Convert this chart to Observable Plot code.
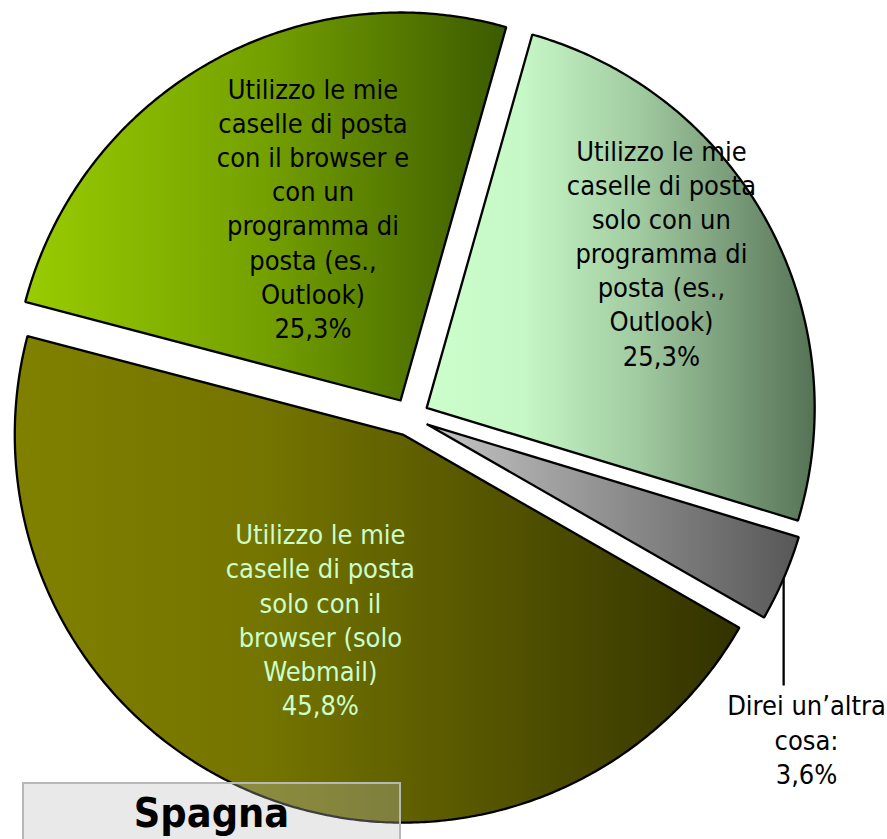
<!DOCTYPE html>
<html>
<head>
<meta charset="utf-8">
<script src="https://cdn.jsdelivr.net/npm/d3@7"></script>
<script src="https://cdn.jsdelivr.net/npm/@observablehq/plot@0.6"></script>
<style>
  html, body { margin: 0; padding: 0; background: #fff; overflow: hidden; }
  #wrap { position: relative; width: 887px; height: 839px; overflow: hidden; }
  #title {
    position: absolute; left: 22px; top: 782px; width: 375px; height: 80px;
    background: rgba(188,188,188,0.33); border: 2px solid #b8b8b8;
    font-family: "DejaVu Sans Condensed", "DejaVu Sans", sans-serif;
    font-weight: bold; font-size: 41px; text-align: center; line-height: 58px; color: #000;
  }
</style>
</head>
<body>
<div id="wrap"><div id="chart"></div><div id="title"></div></div>
<script>
// ---- data ----
const categories = [
  "Utilizzo le mie caselle di posta solo con un programma di posta (es., Outlook)",
  "Direi un’altra cosa",
  "Utilizzo le mie caselle di posta solo con il browser (solo Webmail)",
  "Utilizzo le mie caselle di posta con il browser e con un programma di posta (es., Outlook)"
];
const values = [25.3, 3.6, 45.8, 25.3];
const valueLabels = ["25,3%", "3,6%", "45,8%", "25,3%"];
const labelLines = [
  "Utilizzo le mie\ncaselle di posta\nsolo con un\nprogramma di\nposta (es.,\nOutlook)",
  "Direi un’altra\ncosa:",
  "Utilizzo le mie\ncaselle di posta\nsolo con il\nbrowser (solo\nWebmail)",
  "Utilizzo le mie\ncaselle di posta\ncon il browser e\ncon un\nprogramma di\nposta (es.,\nOutlook)"
];
const chartTitle = "Spagna";

// ---- styling / layout ----
const gradients = [
  [[0, "#ccffcc"], [0.25, "#c6f7c6"], [0.55, "#a0caa0"], [1, "#567256"]],
  [[0, "#c6c6c6"], [1, "#575757"]],
  [[0, "#808000"], [0.35, "#747400"], [1, "#323200"]],
  [[0, "#99cc00"], [0.5, "#74a000"], [1, "#3c5a00"]]
];
const textColors = ["#000", "#000", "#ccffcc", "#000"];
// label anchor positions in pie-radius units (relative to pie centre, y up)
const labelPos = [[0.648, 0.425], [1.022, -0.829], [-0.231, -0.52], [-0.25, 0.54]];
const startDeg = 15.8;
const explode = 0.049;

// ---- geometry ----
const arcs = d3.pie().sort(null).value(d => d)
  .startAngle(startDeg * Math.PI / 180)
  .endAngle(startDeg * Math.PI / 180 + 2 * Math.PI)(values);

const polys = arcs.map((a, i) => {
  const mid = (a.startAngle + a.endAngle) / 2;
  const ox = explode * Math.sin(mid), oy = explode * Math.cos(mid);
  const pts = [{x: ox, y: oy}];
  const n = Math.max(8, Math.ceil((a.endAngle - a.startAngle) / (Math.PI / 360)));
  for (let k = 0; k <= n; k++) {
    const t = a.startAngle + (a.endAngle - a.startAngle) * k / n;
    pts.push({x: ox + Math.sin(t), y: oy + Math.cos(t)});
  }
  pts.push({x: ox, y: oy});
  return {pts, ox, oy, mid};
});

const labels = arcs.map((a, i) => ({
  x: labelPos[i][0], y: labelPos[i][1],
  text: labelLines[i] + "\n" + valueLabels[i], color: textColors[i]
}));

// leader line for the small slice
const g = polys[1];
const leader = [{
  x1: g.ox + Math.sin(g.mid), y1: g.oy + Math.cos(g.mid),
  x2: g.ox + Math.sin(g.mid), y2: -0.692
}];

const chart = Plot.plot({
  width: 887, height: 839, margin: 0,
  x: {domain: [-1.0554, 1.2307], axis: null},
  y: {domain: [-1.0889, 1.0735], axis: null},
  marks: [
    ...polys.map((p, i) => Plot.line(p.pts, {
      x: "x", y: "y", fill: `url(#grad${i})`, stroke: "#000",
      strokeWidth: 2.3, strokeLinejoin: "miter", curve: "linear"
    })),
    Plot.link(leader, {x1: "x1", y1: "y1", x2: "x2", y2: "y2", stroke: "#000", strokeWidth: 2.3}),
    Plot.text(labels, {
      x: "x", y: "y", text: "text", fill: "color",
      fontFamily: "DejaVu Sans Condensed, DejaVu Sans, sans-serif",
      fontSize: 27, lineHeight: 1.265, textAnchor: "middle", lineAnchor: "middle"
    })
  ],
  color: {type: "identity"}
});

// gradient definitions
const svgNS = "http://www.w3.org/2000/svg";
const defs = document.createElementNS(svgNS, "defs");
gradients.forEach((stops, i) => {
  const lg = document.createElementNS(svgNS, "linearGradient");
  lg.setAttribute("id", `grad${i}`);
  lg.setAttribute("x1", "0"); lg.setAttribute("x2", "1");
  lg.setAttribute("y1", "0"); lg.setAttribute("y2", "0");
  stops.forEach(([o, c]) => {
    const s = document.createElementNS(svgNS, "stop");
    s.setAttribute("offset", o); s.setAttribute("stop-color", c);
    lg.appendChild(s);
  });
  defs.appendChild(lg);
});
chart.insertBefore(defs, chart.firstChild);

document.getElementById("chart").appendChild(chart);
document.getElementById("title").textContent = chartTitle;
</script>
</body>
</html>
